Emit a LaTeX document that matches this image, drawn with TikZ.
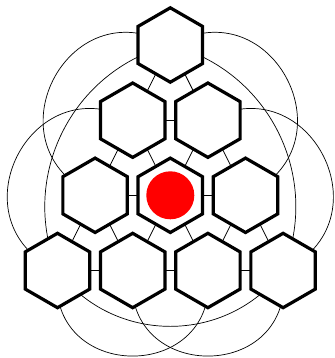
\documentclass[tikz,border=0pt]{standalone}
\usetikzlibrary{shapes.geometric,backgrounds}
\begin{document}
\begin{tikzpicture}[x=1pt,y=1pt,
  hexnode/.style={regular polygon, regular polygon sides=6, regular polygon rotate=30,
    minimum size=74.4pt, inner sep=0pt, draw=black, line width=3.2pt, fill=white},
  link/.style={draw=black, line width=0.8pt},
  arcl/.style={draw=black, line width=0.7pt}]
\useasboundingbox (0,0) rectangle (334,358);
% row 1
\node[hexnode] (T) at (170.3,313) {};
% row 2
\node[hexnode] (R2a) at (132.7,237.8) {};
\node[hexnode] (R2b) at (207.9,237.8) {};
% row 3
\node[hexnode] (R3a) at (95.1,162.7) {};
\node[hexnode] (R3b) at (170.3,162.7) {};
\node[hexnode] (R3c) at (245.5,162.7) {};
% row 4
\node[hexnode] (R4a) at (57.5,87.5) {};
\node[hexnode] (R4b) at (132.7,87.5) {};
\node[hexnode] (R4c) at (207.9,87.5) {};
\node[hexnode] (R4d) at (283.1,87.5) {};
% red dot
\node[circle, fill=red, minimum size=48pt, inner sep=0pt] (dot) at (R3b.center) {};
\begin{scope}[on background layer]
% straight links
\draw[link] (T.center) -- (R2a.center);
\draw[link] (T.center) -- (R2b.center);
\draw[link] (R2a.center) -- (R2b.center);
\draw[link] (R2a.center) -- (R3a.center);
\draw[link] (R2a.center) -- (R3b.center);
\draw[link] (R2b.center) -- (R3b.center);
\draw[link] (R2b.center) -- (R3c.center);
\draw[link] (R3a.center) -- (R3b.center);
\draw[link] (R3b.center) -- (R3c.center);
\draw[link] (R3a.center) -- (R4a.center);
\draw[link] (R3a.center) -- (R4b.center);
\draw[link] (R3b.center) -- (R4b.center);
\draw[link] (R3b.center) -- (R4c.center);
\draw[link] (R3c.center) -- (R4c.center);
\draw[link] (R3c.center) -- (R4d.center);
\draw[link] (R4a.center) -- (R4b.center);
\draw[link] (R4b.center) -- (R4c.center);
\draw[link] (R4c.center) -- (R4d.center);
% curved links
\draw[arcl] (T.center) to[bend right=93, looseness=1.81] (R3a.center);
\draw[arcl] (T.center) to[bend left=93, looseness=1.81] (R3c.center);
\draw[arcl] (R2a.center) to[bend right=92, looseness=1.77] (R4a.center);
\draw[arcl] (R2b.center) to[bend left=92, looseness=1.77] (R4d.center);
\draw[arcl] (T.center) to[bend right=49, looseness=1.03] (R4a.center);
\draw[arcl] (T.center) to[bend left=49, looseness=1.03] (R4d.center);
\draw[arcl] (R4a.center) to[bend right=53, looseness=1.06] (R4d.center);
\draw[arcl] (R4a.center) to[bend right=97, looseness=1.96] (R4c.center);
\draw[arcl] (R4b.center) to[bend right=97, looseness=1.96] (R4d.center);
\end{scope}
\end{tikzpicture}
\end{document}
